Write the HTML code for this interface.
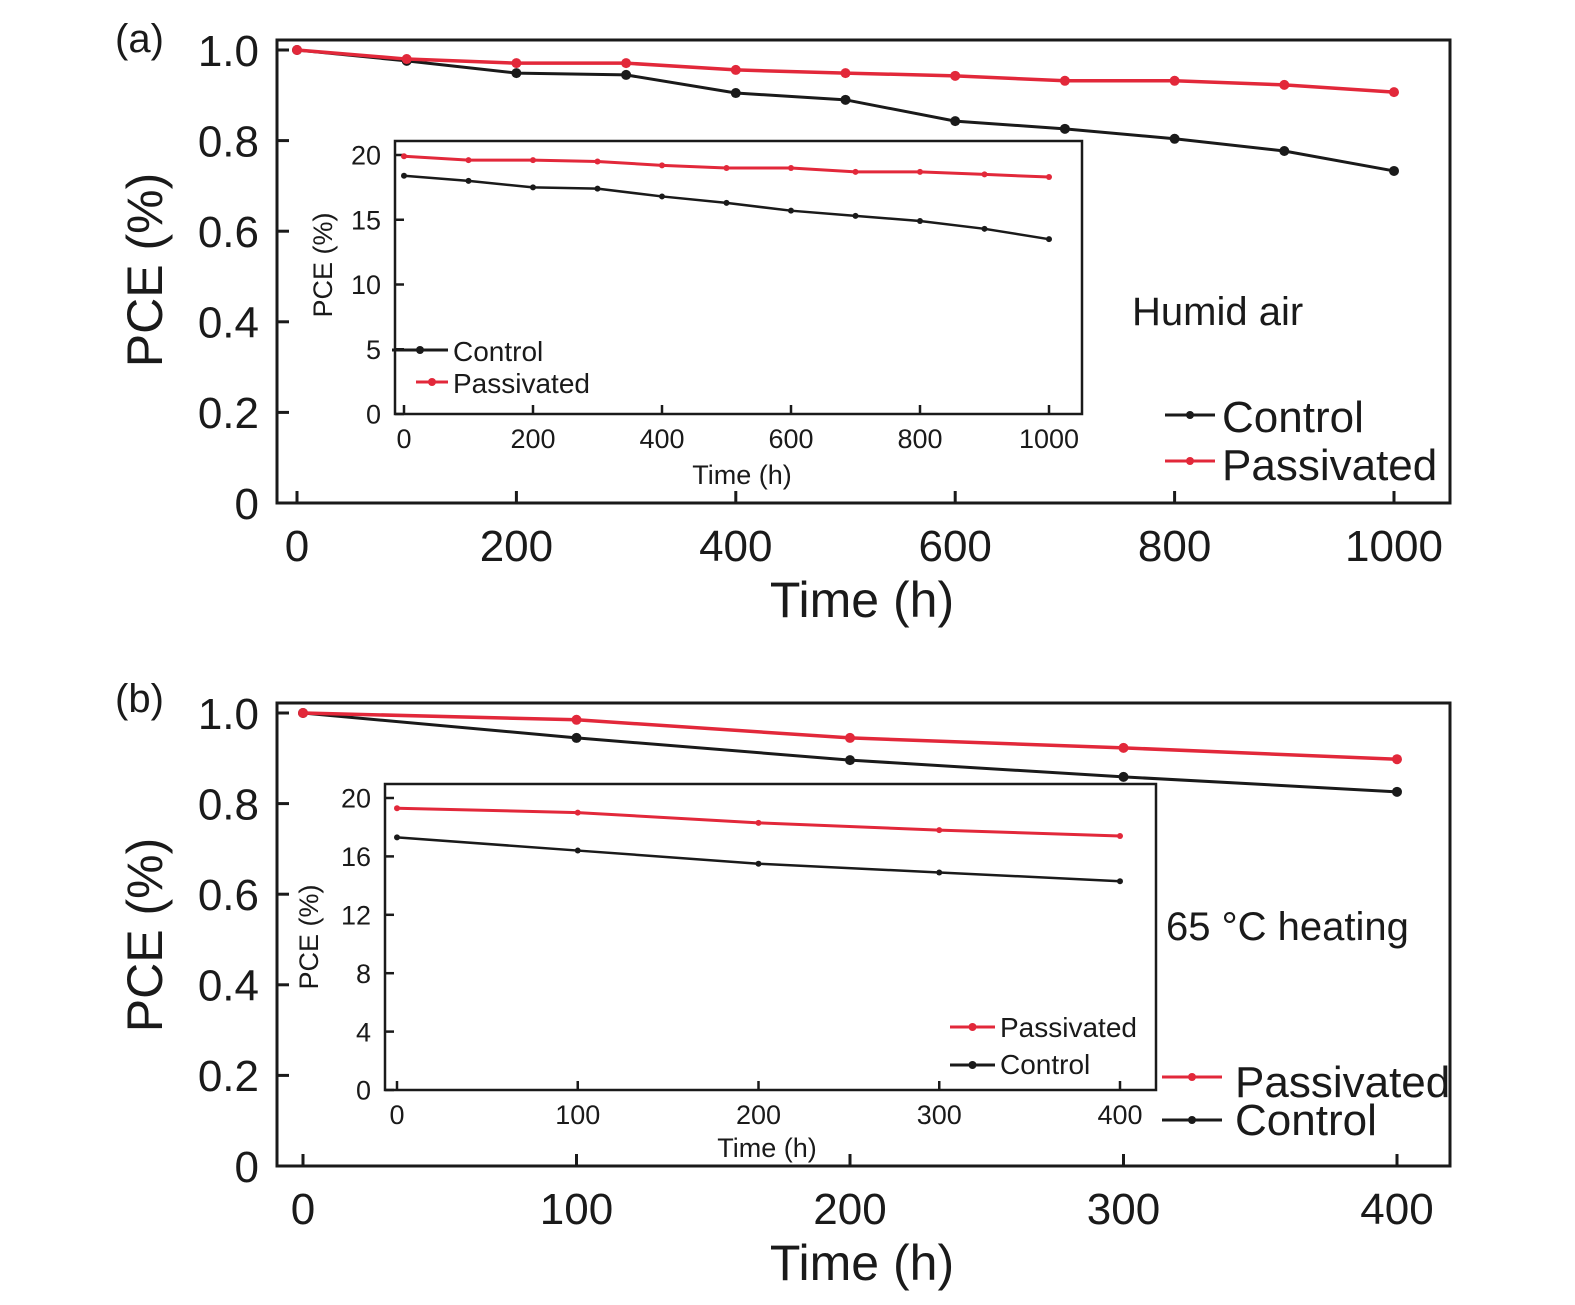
<!DOCTYPE html>
<html><head><meta charset="utf-8"><style>
body{margin:0;background:#fff}
svg{display:block;font-family:"Liberation Sans",sans-serif}
</style></head><body>
<svg id="fig" width="1575" height="1305" viewBox="0 0 1575 1305"></svg>
<script>
// ---- Data ----
const aTimes=[0,100,200,300,400,500,600,700,800,900,1000];
const aControl=[1.0,0.976,0.949,0.945,0.905,0.89,0.843,0.826,0.804,0.777,0.733];
const aPass=[1.0,0.98,0.971,0.971,0.956,0.949,0.943,0.932,0.932,0.923,0.907];
const aInControl=[18.4,18.0,17.5,17.4,16.8,16.3,15.7,15.3,14.9,14.3,13.5];
const aInPass=[19.9,19.6,19.6,19.5,19.2,19.0,19.0,18.7,18.7,18.5,18.3];
const bTimes=[0,100,200,300,400];
const bControl=[1.0,0.945,0.896,0.859,0.826];
const bPass=[1.0,0.985,0.945,0.923,0.898];
const bInControl=[17.3,16.4,15.5,14.9,14.3];
const bInPass=[19.3,19.0,18.3,17.8,17.4];
const mainYTicks=[0,0.2,0.4,0.6,0.8,1.0];
const mainYLabels=["0","0.2","0.4","0.6","0.8","1.0"];
const aXTicks=[0,200,400,600,800,1000];
const aInXTicks=[0,200,400,600,800,1000];
const aInYTicks=[0,5,10,15,20];
const bXTicks=[0,100,200,300,400];
const bInYTicks=[0,4,8,12,16,20];

const NS="http://www.w3.org/2000/svg";
const svg=document.getElementById('fig');
const RED="#e2283a", BLK="#1a1a1a";
function el(tag,attrs,parent,text){const e=document.createElementNS(NS,tag);for(const k in attrs)e.setAttribute(k,attrs[k]);if(text!==undefined)e.textContent=text;(parent||svg).appendChild(e);return e;}
function lin(d0,d1,r0,r1){return v=>r0+(v-d0)/(d1-d0)*(r1-r0);}

function axes(o){
  const g=el('g',{});
  
  
  const r=el('rect',{x:o.x0,y:o.y0,width:o.x1-o.x0,height:o.y1-o.y0,fill:'#fff',stroke:BLK,'stroke-width':o.sw},g);
  
  
  o.xt.forEach(v=>{const x=o.X(v);
    el('line',{x1:x,x2:x,y1:o.y1,y2:o.y1-o.tl,stroke:BLK,'stroke-width':o.sw},g);
    const t=el('text',{x:x,y:o.y1+o.xlOff,'font-size':o.fs,'text-anchor':'middle',fill:BLK},g,String(v));
    
    });
  o.yt.forEach((v,i)=>{const y=o.Y(v);
    el('line',{x1:o.x0,x2:o.x0+o.tl,y1:y,y2:y,stroke:BLK,'stroke-width':o.sw},g);
    const t=el('text',{x:o.x0-o.ylOff,y:y+o.fs*0.36,'font-size':o.fs,'text-anchor':'end',fill:BLK},g,o.yl?o.yl[i]:String(v));
    
    });
  return g;
}
function series(xs,ys,X,Y,color,name,w,ms){
  const g=el('g',{});
  
  
  el('polyline',{points:xs.map((x,i)=>X(x)+','+Y(ys[i])).join(' '),fill:'none',stroke:color,'stroke-width':w},g);
  xs.forEach((x,i)=>{const c=el('circle',{cx:X(x),cy:Y(ys[i]),r:ms,fill:color},g);
    
    });
}
function text(x,y,s,fs,name,anchor,rot){
  const t=el('text',{x:x,y:y,'font-size':fs,'text-anchor':anchor||'start',fill:BLK},svg,s);
  if(rot)t.setAttribute('transform','rotate(-90 '+x+' '+y+')');
  
  
}
function legend(x1,x2,y,color,label,tx,ty,fs,name){
  el('line',{x1:x1,x2:x2,y1:y,y2:y,stroke:color,'stroke-width':3});
  el('circle',{cx:(x1+x2)/2,cy:y,r:4,fill:color});
  text(tx,ty,label,fs,name);
}

// ---- Panel (a) ----
let X=lin(0,1000,297,1394), Y=lin(0,1,503,50);
axes({name:'panel-a-axes',x0:277,x1:1450,y0:40,y1:503,X,Y,xt:aXTicks,yt:mainYTicks,yl:mainYLabels,tl:12,sw:3,fs:44,xlOff:58,ylOff:18});
series(aTimes,aControl,X,Y,BLK,'a-control-line',3,5);
series(aTimes,aPass,X,Y,RED,'a-passivated-line',3.5,5);
let Xi=lin(0,1000,404,1049), Yi=lin(0,20,414,155);
axes({name:'panel-a-inset-axes',x0:395,x1:1082,y0:141,y1:414,X:Xi,Y:Yi,xt:aInXTicks,yt:aInYTicks,tl:9,sw:2.5,fs:27,xlOff:34,ylOff:14});
series(aTimes,aInControl,Xi,Yi,BLK,'a-inset-control-line',2.5,3);
series(aTimes,aInPass,Xi,Yi,RED,'a-inset-passivated-line',3,3);
text(332,265,'PCE (%)',27,'a-inset-y-title','middle',true);
text(742,484,'Time (h)',27,'a-inset-x-title','middle');
legend(392,448,350,BLK,'Control',453,361,28,'a-inset-legend-control');
legend(416,448,382,RED,'Passivated',453,393,28,'a-inset-legend-passivated');
text(1132,325,'Humid air',40,'a-condition-label');
legend(1165,1215,415,BLK,'Control',1222,432,44,'a-legend-control');
legend(1165,1215,461,RED,'Passivated',1222,480,44,'a-legend-passivated');
text(162,270,'PCE (%)',50,'a-y-axis-title','middle',true);
text(862,617,'Time (h)',50,'a-x-axis-title','middle');
text(115,52,'(a)',40,'panel-a-label');

// ---- Panel (b) ----
X=lin(0,400,303,1397); Y=lin(0,1,1166,713);
axes({name:'panel-b-axes',x0:277,x1:1450,y0:703,y1:1166,X,Y,xt:bXTicks,yt:mainYTicks,yl:mainYLabels,tl:12,sw:3,fs:44,xlOff:58,ylOff:18});
series(bTimes,bControl,X,Y,BLK,'b-control-line',3,5);
series(bTimes,bPass,X,Y,RED,'b-passivated-line',3.5,5);
Xi=lin(0,400,397,1120); Yi=lin(0,20,1090,798);
axes({name:'panel-b-inset-axes',x0:385,x1:1156,y0:784,y1:1090,X:Xi,Y:Yi,xt:bXTicks,yt:bInYTicks,tl:9,sw:2.5,fs:27,xlOff:34,ylOff:14});
series(bTimes,bInControl,Xi,Yi,BLK,'b-inset-control-line',2.5,3);
series(bTimes,bInPass,Xi,Yi,RED,'b-inset-passivated-line',3,3);
text(318,937,'PCE (%)',27,'b-inset-y-title','middle',true);
text(767,1157,'Time (h)',27,'b-inset-x-title','middle');
legend(950,995,1027,RED,'Passivated',1000,1037,28,'b-inset-legend-passivated');
legend(950,995,1065,BLK,'Control',1000,1074,28,'b-inset-legend-control');
text(1166,940,'65 °C heating',40,'b-condition-label');
legend(1162,1222,1077,RED,'Passivated',1235,1097,44,'b-legend-passivated');
legend(1162,1222,1120,BLK,'Control',1235,1135,44,'b-legend-control');
text(162,935,'PCE (%)',50,'b-y-axis-title','middle',true);
text(862,1280,'Time (h)',50,'b-x-axis-title','middle');
text(115,712,'(b)',40,'panel-b-label');
</script>
</body></html>
